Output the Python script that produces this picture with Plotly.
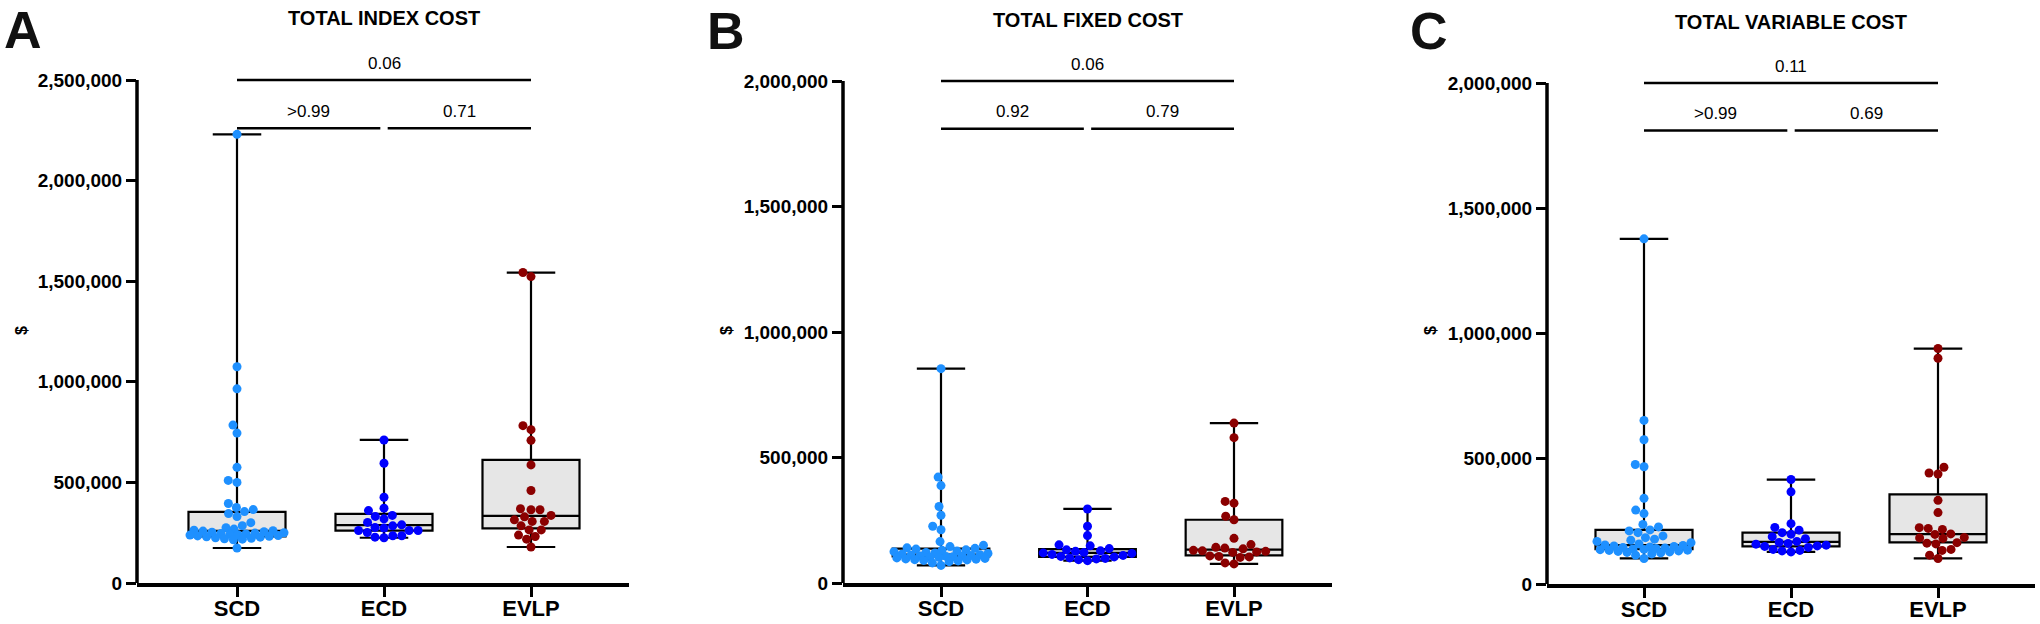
import math
import plotly.graph_objects as go

W, H = 2040, 624
FONT = "Arial, Liberation Sans, Helvetica, sans-serif"

# ---------------- data ----------------
categories = ["SCD", "ECD", "EVLP"]
panel_letters = ["A", "B", "C"]
panel_titles = ["TOTAL INDEX COST", "TOTAL FIXED COST", "TOTAL VARIABLE COST"]
y_axis_label = "$"
y_tick_max = [2500000, 2000000, 2000000]
y_tick_step = 500000

index_scd = [2230000, 1075000, 965000, 785000, 745000, 575000, 510000, 500000, 395000, 375000,
             365000, 355000, 345000, 330000, 300000, 285000, 275000, 268000, 262000, 260000,
             258000, 255000, 252000, 250000, 248000, 246000, 244000, 242000, 240000, 238000,
             236000, 234000, 232000, 230000, 228000, 225000, 222000, 220000, 218000, 215000, 174000]
index_ecd = [711000, 595000, 426000, 372000, 360000, 336000, 331000, 319000, 301000, 289000,
             284000, 276000, 273000, 261000, 261000, 261000, 251000, 235000, 235000, 228000, 225000]
index_evlp = [1543000, 1523000, 782000, 762000, 709000, 587000, 460000, 369000, 364000, 364000,
              336000, 329000, 314000, 306000, 306000, 284000, 264000, 264000, 238000, 231000,
              218000, 179000]

fixed_scd = [854000, 422000, 388000, 305000, 270000, 226000, 212000, 165000, 150000, 145000,
             140000, 138000, 135000, 132000, 130000, 127000, 125000, 122000, 120000, 118000,
             115000, 113000, 111000, 110000, 108000, 107000, 106000, 105000, 103000, 102000,
             100000, 98000, 96000, 95000, 93000, 92000, 90000, 88000, 85000, 80000, 70000]
fixed_ecd = [295000, 226000, 189000, 152000, 148000, 137000, 132000, 128000, 126000, 122000,
             120000, 118000, 114000, 110000, 106000, 104000, 100000, 98000, 96000, 93000, 89000]
fixed_evlp = [637000, 579000, 325000, 318000, 266000, 252000, 178000, 153000, 142000, 139000,
              136000, 130000, 128000, 126000, 124000, 122000, 108000, 106000, 104000, 102000,
              80000, 76000]

variable_scd = [1378000, 653000, 576000, 477000, 468000, 342000, 295000, 281000, 238000, 228000,
                216000, 212000, 205000, 192000, 185000, 179000, 175000, 170000, 165000, 160000,
                156000, 154000, 152000, 150000, 148000, 146000, 144000, 142000, 140000, 138000,
                137000, 135000, 134000, 132000, 130000, 128000, 126000, 124000, 120000, 115000, 102000]
variable_ecd = [417000, 368000, 241000, 226000, 215000, 205000, 199000, 189000, 181000, 170000,
                166000, 162000, 159000, 155000, 152000, 150000, 146000, 138000, 134000, 132000, 128000]
variable_evlp = [940000, 901000, 466000, 443000, 439000, 334000, 285000, 225000, 222000, 218000,
                 200000, 198000, 186000, 184000, 182000, 165000, 163000, 160000, 138000, 134000,
                 115000, 102000]

# box statistics (SCD, ECD, EVLP)
index_q1 = [231000, 260000, 271000]
index_median = [259000, 288000, 334000]
index_q3 = [354000, 344000, 612000]
fixed_q1 = [106000, 104000, 110000]
fixed_median = [113000, 120000, 133000]
fixed_q3 = [137000, 135000, 252000]
variable_q1 = [139000, 150000, 166000]
variable_median = [155000, 168000, 199000]
variable_q3 = [216000, 205000, 358000]

# comparisons
p_scd_evlp = ["0.06", "0.06", "0.11"]
p_scd_ecd = [">0.99", "0.92", ">0.99"]
p_ecd_evlp = ["0.71", "0.79", "0.69"]
bracket_top = [2500000, 2000000, 2000000]
bracket_low = [2260000, 1810000, 1810000]

panel_values = [[index_scd, index_ecd, index_evlp],
                [fixed_scd, fixed_ecd, fixed_evlp],
                [variable_scd, variable_ecd, variable_evlp]]
panel_q1 = [index_q1, fixed_q1, variable_q1]
panel_median = [index_median, fixed_median, variable_median]
panel_q3 = [index_q3, fixed_q3, variable_q3]

# ---------------- style / layout (page pixel positions) ----------------
colors = ["#1E90FF", "#0000FF", "#8B0000"]
box_fill = "#E6E6E6"
x_axis_px = [137, 843, 1547]
x_first_px = [237, 941, 1644]
x_last_px = [531, 1234, 1938]
x_end_px = [629, 1332, 2035]
y_zero_px = [583, 583, 584]
y_top_px = [80, 81, 83]
plot_top_px = 68
letter_px = [(23, 30), (726, 30.5), (1428.5, 31)]
LETTER_SIZE = 52
title_y_px = [17.5, 20.5, 22.5]
dollar_x_px = [21, 726, 1430]
dollar_y_px = 331
MARKER = 9
LW = 2.2


def fx(px):
    return min(1.0, max(0.0, px / W))


def fy(py):
    return min(1.0, max(0.0, 1 - py / H))


def swarm_offsets(vals, px_per_val, px_per_cat, diam, max_half):
    order = sorted(range(len(vals)), key=lambda i: vals[i])
    placed = []
    out = [0.0] * len(vals)
    for i in order:
        y = vals[i] * px_per_val

        def mind(c):
            return min([math.hypot(c - px, y - py) for px, py in placed] or [1e9])

        cands = {0.0}
        for px, py in placed:
            dy = abs(py - y)
            if dy < diam:
                dx = math.sqrt(diam * diam - dy * dy)
                cands.add(px + dx)
                cands.add(px - dx)
        cands = [c for c in cands if abs(c) <= max_half]
        valid = [c for c in cands if mind(c) >= diam - 1e-6]
        if valid:
            x = min(valid, key=lambda c: (abs(c), c))
        else:
            grid = [k * 1.0 for k in range(-int(max_half), int(max_half) + 1)]
            x = max(grid, key=lambda c: (round(mind(c), 3), -abs(c)))
        placed.append((x, y))
        out[i] = x / px_per_cat
    return out


fig = go.Figure()
layout = dict(width=W, height=H, margin=dict(l=0, r=0, t=0, b=0), template="none",
              paper_bgcolor="white", plot_bgcolor="white", showlegend=False,
              font=dict(family=FONT, color="black"))
shapes = []
annotations = []

for p in range(3):
    sfx = "" if p == 0 else str(p + 1)
    xa, ya = "x" + sfx, "y" + sfx
    spacing = (x_last_px[p] - x_first_px[p]) / 2.0
    xr = [-(x_first_px[p] - x_axis_px[p]) / spacing, 2 + (x_end_px[p] - x_last_px[p]) / spacing]
    px_per_val = (y_zero_px[p] - y_top_px[p]) / y_tick_max[p]
    yr_top = (y_zero_px[p] - plot_top_px) / px_per_val

    for c in range(3):
        vals = panel_values[p][c]
        fig.add_trace(go.Box(
            x=[c], q1=[panel_q1[p][c]], median=[panel_median[p][c]], q3=[panel_q3[p][c]],
            lowerfence=[min(vals)], upperfence=[max(vals)], orientation="v",
            width=0.66, whiskerwidth=0.5, fillcolor=box_fill,
            line=dict(color="black", width=LW), boxpoints=False,
            xaxis=xa, yaxis=ya, showlegend=False, hoverinfo="skip"))
    for c in range(3):
        vals = panel_values[p][c]
        offs = swarm_offsets(vals, px_per_val, spacing, MARKER, 47)
        fig.add_trace(go.Scatter(
            x=[c + o for o in offs], y=vals, mode="markers",
            marker=dict(size=MARKER, color=colors[c], line=dict(width=0)),
            xaxis=xa, yaxis=ya, showlegend=False, cliponaxis=False))

    layout["xaxis" + sfx] = dict(
        domain=[fx(x_axis_px[p]), fx(x_end_px[p])], range=xr, anchor=ya,
        showline=True, linewidth=3.5, linecolor="black", mirror=False,
        ticks="outside", ticklen=10, tickwidth=3, tickcolor="black",
        tickmode="array", tickvals=[0, 1, 2], ticktext=categories,
        ticklabelstandoff=-7,
        tickfont=dict(family=FONT, size=22, color="black", weight="bold"),
        showgrid=False, zeroline=False, fixedrange=True)
    layout["yaxis" + sfx] = dict(
        domain=[fy(y_zero_px[p]), fy(plot_top_px)], range=[0, yr_top], anchor=xa,
        showline=False, ticks="outside", ticklen=10, tickwidth=2.5, tickcolor="black",
        tickmode="array", tickvals=list(range(0, y_tick_max[p] + 1, y_tick_step)),
        tickformat=",", tickfont=dict(family=FONT, size=19, color="black", weight="bold"),
        showgrid=False, zeroline=False, fixedrange=True)

    shapes.append(dict(type="line", xref=xa + " domain", yref=ya, x0=0, x1=0,
                       y0=0, y1=y_tick_max[p], line=dict(color="black", width=3.5)))
    br = [(0, 2, bracket_top[p], p_scd_evlp[p]),
          (0, 0.975, bracket_low[p], p_scd_ecd[p]),
          (1.025, 2, bracket_low[p], p_ecd_evlp[p])]
    for x0, x1, yv, txt in br:
        shapes.append(dict(type="line", xref=xa, yref=ya, x0=x0, x1=x1, y0=yv, y1=yv,
                           line=dict(color="black", width=2.5)))
        annotations.append(dict(xref=xa, yref=ya, x=(x0 + x1) / 2.0 if x1 - x0 < 1.5 else 1,
                                y=yv, yshift=17, text=txt, showarrow=False,
                                xanchor="center", yanchor="middle",
                                font=dict(family=FONT, size=17, color="black")))
    annotations.append(dict(xref="paper", yref="paper", x=fx(letter_px[p][0]),
                            y=fy(letter_px[p][1]), text=panel_letters[p], showarrow=False,
                            xanchor="center", yanchor="middle", borderpad=0,
                            font=dict(family=FONT, size=LETTER_SIZE, color="#111111",
                                      weight="bold")))
    annotations.append(dict(xref=xa, yref="paper", x=1, y=fy(title_y_px[p]),
                            text=panel_titles[p], showarrow=False, xanchor="center",
                            yanchor="middle",
                            font=dict(family=FONT, size=20, color="black", weight="bold")))
    annotations.append(dict(xref="paper", yref="paper", x=fx(dollar_x_px[p]),
                            y=fy(dollar_y_px), text=y_axis_label, showarrow=False,
                            textangle=-90, xanchor="center", yanchor="middle",
                            font=dict(family=FONT, size=16, color="black", weight="bold")))

layout["shapes"] = shapes
layout["annotations"] = annotations
fig.update_layout(**layout)
# remove the browser's default 8px body margin so the 2040x624 figure fills the window
fig.write_html("out.html", config={"displayModeBar": False},
               post_script="document.body.style.margin='0';")
